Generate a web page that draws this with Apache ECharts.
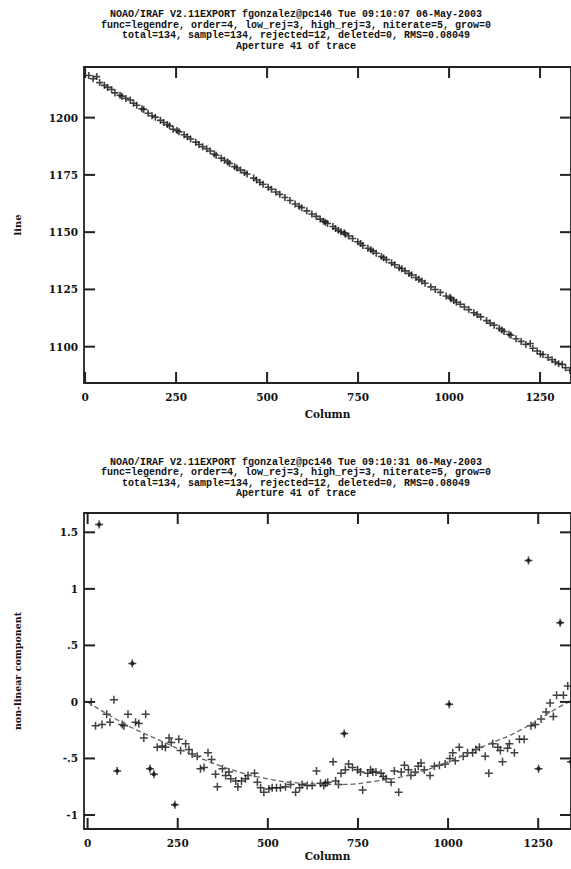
<!DOCTYPE html>
<html>
<head>
<meta charset="utf-8">
<script src="https://cdn.jsdelivr.net/npm/echarts@6/dist/echarts.min.js"></script>
<style>
  html, body { margin: 0; padding: 0; background: #fff; }
  #chart { width: 571px; height: 869px; }
</style>
</head>
<body>
<div id="chart"></div>
<script>
// Trace of aperture 41: column positions of the fitted points
const columns = [10, 22, 32, 40, 53, 62, 73, 82, 96, 101, 112, 124, 133, 142, 156, 161, 173, 184, 193, 207,
  216, 226, 232, 242, 253, 258, 272, 281, 290, 304, 313, 323, 334, 344, 355, 360, 374, 383, 392, 397,
  411, 417, 427, 438, 445, 463, 471, 480, 489, 503, 512, 524, 535, 549, 563, 577, 588, 595, 609, 623,
  635, 646, 655, 660, 666, 681, 688, 696, 703, 712, 715, 724, 735, 749, 757, 763, 777, 785, 791, 800,
  814, 820, 828, 842, 851, 863, 870, 879, 890, 897, 909, 917, 925, 934, 950, 962, 976, 992, 1003, 1005,
  1013, 1020, 1031, 1042, 1054, 1068, 1077, 1087, 1103, 1113, 1124, 1138, 1145, 1151, 1165, 1170, 1184, 1198, 1211, 1223,
  1230, 1242, 1251, 1258, 1272, 1283, 1292, 1301, 1311, 1320, 1332, 1341];

// Line position of the trace at each column
const linePos = [1218.4, 1217.0, 1217.9, 1215.3, 1214.1, 1213.2, 1212.3, 1210.8, 1209.8, 1209.3, 1208.4, 1207.7, 1206.3, 1205.4, 1203.9, 1203.6, 1201.9, 1200.8, 1200.2, 1198.8,
  1197.9, 1197.0, 1196.4, 1194.9, 1194.4, 1193.8, 1192.5, 1191.6, 1190.7, 1189.3, 1188.3, 1187.3, 1186.4, 1185.4, 1184.1, 1183.6, 1182.3, 1181.4, 1180.6, 1180.0,
  1178.6, 1178.0, 1177.1, 1176.0, 1175.4, 1173.6, 1172.8, 1171.8, 1170.9, 1169.6, 1168.7, 1167.5, 1166.5, 1165.1, 1163.8, 1162.3, 1161.3, 1160.7, 1159.3, 1157.9,
  1156.9, 1155.7, 1154.8, 1154.3, 1153.8, 1152.5, 1151.6, 1150.8, 1150.2, 1149.7, 1149.1, 1148.3, 1147.2, 1145.8, 1145.0, 1144.2, 1143.0, 1142.3, 1141.7, 1140.8,
  1139.4, 1138.8, 1138.0, 1136.6, 1135.8, 1134.5, 1134.0, 1133.1, 1132.0, 1131.3, 1130.2, 1129.4, 1128.7, 1127.7, 1126.1, 1125.0, 1123.7, 1122.1, 1121.6, 1120.9,
  1120.2, 1119.4, 1118.5, 1117.3, 1116.2, 1114.8, 1114.0, 1113.0, 1111.4, 1110.3, 1109.4, 1108.0, 1107.3, 1106.6, 1105.4, 1105.0, 1103.5, 1102.3, 1101.0, 1101.4,
  1099.3, 1098.1, 1096.8, 1096.6, 1095.3, 1094.3, 1093.3, 1092.6, 1092.3, 1090.8, 1089.7, 1088.1];

// Non-linear part of the position at each column
const nonLinear = [0.00, -0.21, 1.57, -0.20, -0.11, -0.18, 0.02, -0.61, -0.20, -0.21, -0.11, 0.34, -0.18, -0.19, -0.32, -0.11, -0.59, -0.64, -0.40, -0.39,
  -0.40, -0.32, -0.36, -0.91, -0.33, -0.43, -0.37, -0.42, -0.46, -0.48, -0.59, -0.58, -0.45, -0.51, -0.64, -0.75, -0.59, -0.65, -0.62, -0.68,
  -0.70, -0.75, -0.70, -0.68, -0.65, -0.63, -0.71, -0.76, -0.80, -0.77, -0.76, -0.76, -0.76, -0.75, -0.73, -0.80, -0.76, -0.73, -0.74, -0.74,
  -0.61, -0.72, -0.74, -0.72, -0.71, -0.53, -0.70, -0.73, -0.63, -0.28, -0.60, -0.55, -0.58, -0.60, -0.62, -0.78, -0.63, -0.60, -0.62, -0.62,
  -0.63, -0.66, -0.68, -0.71, -0.61, -0.80, -0.62, -0.56, -0.60, -0.65, -0.62, -0.57, -0.54, -0.60, -0.65, -0.57, -0.56, -0.55, -0.02, -0.50,
  -0.45, -0.52, -0.40, -0.48, -0.45, -0.45, -0.42, -0.40, -0.48, -0.63, -0.37, -0.40, -0.43, -0.53, -0.41, -0.37, -0.45, -0.33, -0.33, 1.25,
  -0.21, -0.20, -0.59, -0.15, -0.09, -0.01, -0.13, 0.06, 0.70, 0.06, 0.14, -0.53];

// Columns rejected by the fit
const rejectedColumns = [32, 82, 124, 173, 184, 242, 712, 1003, 1223, 1251, 1311, 1341];

// Non-linear part of the fitted legendre function
const fitColumns = [0, 100, 200, 300, 400, 500, 600, 700, 800, 900, 1000, 1100, 1200, 1300, 1341];
const fitValues = [0.00, -0.19, -0.34, -0.48, -0.60, -0.68, -0.72, -0.73, -0.70, -0.64, -0.53, -0.39, -0.25, -0.06, 0.01];

// Axis ticks
const colTicks = [0, 250, 500, 750, 1000, 1250];
const lineTicks = [1100, 1125, 1150, 1175, 1200];
const nlTicks = [-1, -0.5, 0, 0.5, 1, 1.5];
const nlTickText = { '-1': '-1', '-0.5': '-.5', '0': '0', '0.5': '.5', '1': '1', '1.5': '1.5' };

const headerTop = [
  'NOAO/IRAF V2.11EXPORT fgonzalez@pc146 Tue 09:10:07 06-May-2003',
  'func=legendre, order=4, low_rej=3, high_rej=3, niterate=5, grow=0',
  'total=134, sample=134, rejected=12, deleted=0, RMS=0.08049',
  'Aperture 41 of trace'
];
const headerBottom = [
  'NOAO/IRAF V2.11EXPORT fgonzalez@pc146 Tue 09:10:31 06-May-2003',
  'func=legendre, order=4, low_rej=3, high_rej=3, niterate=5, grow=0',
  'total=134, sample=134, rejected=12, deleted=0, RMS=0.08049',
  'Aperture 41 of trace'
];

const INK = '#111';
const FRAME = '#222';
const TICK_LEN = 11;
const labelFont = { color: INK, fontFamily: 'DejaVu Serif', fontWeight: 'bold', fontSize: 10.5 };
const plusPath = 'path://M5,0L5,10M0,5L10,5';
const rejectPath = 'path://M5,0L5,10M0,5L10,5M5,2.6L7.4,5L5,7.4L2.6,5Z';

const ranges = [
  { x: [-3, 1335], y: [1084.15, 1222.1] },
  { x: [-10, 1341], y: [-1.124, 1.671] }
];

function axisPair(kind, gridIndex, range, ticks, opts) {
  const common = {
    type: 'value', gridIndex, min: range[0], max: range[1], scale: true,
    splitLine: { show: false },
    axisLine: { show: true, onZero: false, lineStyle: { color: FRAME, width: 1.8 } },
    axisTick: { show: false }
  };
  const main = Object.assign({}, common, {
    position: kind === 'x' ? 'bottom' : 'left',
    axisLabel: Object.assign({ show: true, customValues: ticks, formatter: v => String(v) }, labelFont, opts.label || {})
  }, opts.main || {});
  const opp = Object.assign({}, common, {
    position: kind === 'x' ? 'top' : 'right',
    axisLabel: { show: false }
  });
  return [main, opp];
}

const nameStyle = size => ({ color: INK, fontFamily: 'DejaVu Serif', fontWeight: 'bold', fontSize: size });

const topX = axisPair('x', 0, ranges[0].x, colTicks, {
  label: { margin: 8 },
  main: { name: 'Column', nameLocation: 'middle', nameGap: 25, nameTextStyle: nameStyle(10.5) }
});
const botX = axisPair('x', 1, ranges[1].x, colTicks, {
  label: { margin: 8 },
  main: { name: 'Column', nameLocation: 'middle', nameGap: 21, nameTextStyle: nameStyle(10.5) }
});
const topY = axisPair('y', 0, ranges[0].y, lineTicks, {
  label: { margin: 6 },
  main: { name: 'line', nameLocation: 'middle', nameGap: 62, nameRotate: 90, nameTextStyle: nameStyle(10) }
});
const botY = axisPair('y', 1, ranges[1].y, nlTicks, {
  label: { margin: 6, formatter: v => nlTickText[String(v)] !== undefined ? nlTickText[String(v)] : String(v) },
  main: { name: 'non-linear component', nameLocation: 'middle', nameGap: 62, nameRotate: 90, nameTextStyle: nameStyle(9.5) }
});

function header(lines, y0, step) {
  return lines.map((t, i) => ({
    type: 'text', x: 296, y: y0 + i * step,
    style: { text: t, fill: INK, font: 'bold 10px "Liberation Mono"', textAlign: 'center', textVerticalAlign: 'middle' }
  }));
}

const isRejected = c => rejectedColumns.indexOf(c) >= 0;
const tracePoints = columns.map((c, i) => [c, linePos[i]]);
const keptPoints = columns.map((c, i) => [c, nonLinear[i]]).filter(p => !isRejected(p[0]));
const rejectedPoints = columns.map((c, i) => [c, nonLinear[i]]).filter(p => isRejected(p[0]));
const fitCurve = fitColumns.map((c, i) => [c, fitValues[i]]);

const chart = echarts.init(document.getElementById('chart'), null, { renderer: 'svg' });
chart.setOption({
  backgroundColor: '#ffffff',
  animation: false,
  grid: [
    { left: 84, top: 67, width: 488, height: 316 },
    { left: 84, top: 513, width: 488, height: 316 }
  ],
  xAxis: [topX[0], topX[1], botX[0], botX[1]],
  yAxis: [topY[0], topY[1], botY[0], botY[1]],
  series: [
    {
      type: 'scatter', xAxisIndex: 0, yAxisIndex: 0, data: tracePoints,
      symbol: plusPath, symbolSize: 7,
      itemStyle: { color: 'transparent', borderColor: INK, borderWidth: 1.6 }
    },
    {
      type: 'line', xAxisIndex: 2, yAxisIndex: 2, data: fitCurve, smooth: true,
      showSymbol: false, symbol: 'none',
      lineStyle: { color: '#666', width: 1.3, type: [5, 3] }
    },
    {
      type: 'scatter', xAxisIndex: 2, yAxisIndex: 2, data: keptPoints,
      symbol: plusPath, symbolSize: 8,
      itemStyle: { color: 'transparent', borderColor: INK, borderWidth: 1.5 }
    },
    {
      type: 'scatter', xAxisIndex: 2, yAxisIndex: 2, data: rejectedPoints,
      symbol: rejectPath, symbolSize: 8,
      itemStyle: { color: INK, borderColor: INK, borderWidth: 1.5 }
    }
  ]
});

// Inward tick marks on all four edges of each panel, positioned through the panel's scales
function panelTicks(g, yTicks) {
  const r = ranges[g];
  const px = v => chart.convertToPixel({ gridIndex: g }, v);
  const els = [];
  const seg = (x1, y1, x2, y2) => els.push({
    type: 'line', silent: true, z: 50,
    shape: { x1, y1, x2, y2 },
    style: { stroke: FRAME, lineWidth: 2 }
  });
  colTicks.forEach(v => {
    const b = px([v, r.y[0]]);
    const t = px([v, r.y[1]]);
    seg(b[0], b[1], b[0], b[1] - TICK_LEN);
    seg(t[0], t[1], t[0], t[1] + TICK_LEN);
  });
  yTicks.forEach(v => {
    const l = px([r.x[0], v]);
    const rt = px([r.x[1], v]);
    seg(l[0], l[1], l[0] + TICK_LEN, l[1]);
    seg(rt[0], rt[1], rt[0] - TICK_LEN, rt[1]);
  });
  return els;
}

chart.setOption({
  graphic: header(headerTop, 14.5, 10.5)
    .concat(header(headerBottom, 462, 10.5))
    .concat(panelTicks(0, lineTicks))
    .concat(panelTicks(1, nlTicks))
});
</script>
</body>
</html>
